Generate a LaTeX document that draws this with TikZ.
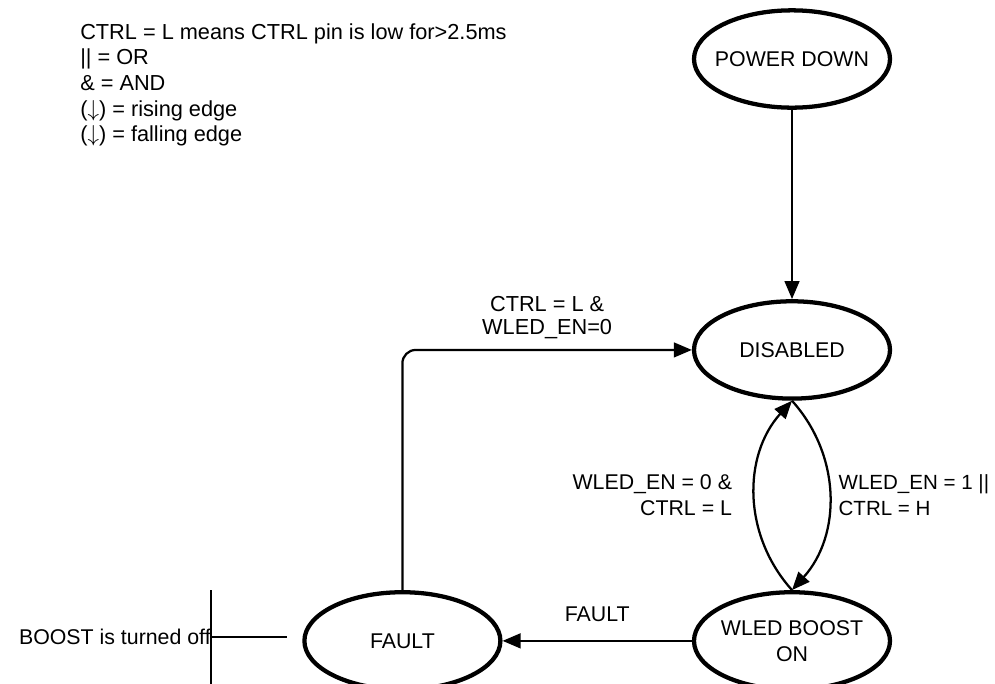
\documentclass[tikz,border=0pt]{standalone}
\usepackage{fontspec}
\setmainfont{Liberation Sans}
\usetikzlibrary{arrows.meta,positioning,shapes.geometric}

\begin{document}
\begin{tikzpicture}[
  x=0.75pt, y=-0.75pt,
  node distance=142pt,
  state/.style={ellipse, draw=black, line width=3.2pt, minimum width=147pt,
                minimum height=73pt, inner xsep=-9pt, inner ysep=0pt,
                align=center, font=\fontsize{16}{19.5}\selectfont},
  flow/.style={-{Triangle[length=13.5pt, width=11pt]}, line width=1.7pt, black},
  label/.style={align=center, font=\fontsize{16}{19.3}\selectfont},
  legend/.style={anchor=north west, align=left, inner sep=0pt,
                 font=\fontsize{16.3}{19.3}\selectfont}
]
\useasboundingbox (0,0) rectangle (995,683);
\node[legend] (key) at (80,23) {
  CTRL = L means CTRL pin is low for>2.5ms\\
  || = OR\\
  \& = AND\\
  ($\downarrow$) = rising edge\\
  ($\downarrow$) = falling edge};
\node[state] (powerdown) at (792,59) {POWER DOWN};
\node[state, below=of powerdown] (disabled) {DISABLED};
\node[state, below=of disabled] (boost) {WLED BOOST\\ON};
\node[state, left=of boost] (fault) {FAULT};
\draw[flow] (powerdown) -- (disabled);
\draw[flow, rounded corners=10pt] (fault.north) |-
  node[label, pos=0.75, above=4pt, font=\fontsize{16.3}{17.5}\selectfont]
  {CTRL = L \&\\WLED\_EN=0} (disabled.west);
\draw[flow] (boost.north) to[bend left=42]
  node[label, midway, left=13pt, align=right] {WLED\_EN = 0 \&\\CTRL = L}
  (disabled.south);
\draw[flow] (disabled.south) to[bend left=42]
  node[label, midway, right=3pt, align=left,
       font=\fontsize{15.4}{19.3}\selectfont] {WLED\_EN = 1 ||\\CTRL = H}
  (boost.north);
\draw[flow] (boost) -- node[label, above=10pt] {FAULT} (fault);
\node[label, anchor=east, inner sep=0pt] (boostoff) at (211,637)
  {BOOST is turned off};
\coordinate (offend) at (287,637);
\draw[line width=1.7pt] (boostoff.east) -- (offend);
\draw[line width=1.7pt] ([yshift=35pt]boostoff.east) -- ([yshift=-35pt]boostoff.east);
\end{tikzpicture}
\end{document}
